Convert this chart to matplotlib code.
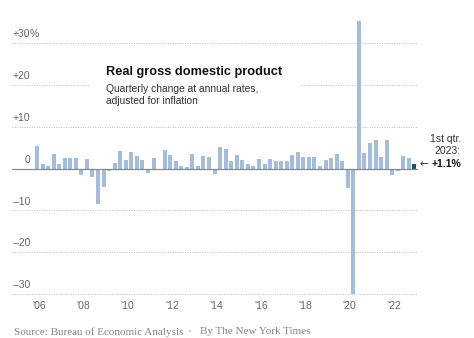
import numpy as np
import matplotlib
matplotlib.use('Agg')
import matplotlib.pyplot as plt
from matplotlib.transforms import blended_transform_factory
from matplotlib.patches import Rectangle

# quarterly real GDP change, annual rate, 2006 Q1 .. 2023 Q1
gdp = [5.5, 1.0, 0.6, 3.4,
       1.2, 2.5, 2.4, 2.4,
       -1.5, 2.2, -2.1, -8.4,
       -4.5, -0.7, 1.4, 4.2,
       2.0, 3.9, 3.1, 2.1,
       -1.0, 2.6, -0.1, 4.5,
       3.2, 1.7, 0.6, 0.4,
       3.4, 0.5, 3.1, 2.8,
       -1.4, 5.2, 4.6, 1.7,
       3.2, 2.1, 1.2, 0.6,
       2.3, 1.1, 2.3, 1.9,
       1.7, 1.9, 3.3, 4.0,
       2.7, 2.7, 2.7, 0.6,
       2.0, 2.5, 3.4, 1.7,
       -4.6, -29.9, 35.3, 3.8,
       6.2, 6.9, 2.7, 6.9,
       -1.5, -0.6, 3.1, 2.5,
       1.1]
year_labels = ["'06", "'08", "'10", "'12", "'14", "'16", "'18", "'20", "'22"]
y_ticks = [30, 20, 10, 0, -10, -20, -30]
y_tick_labels = ['+30', '+20', '+10', '0', '\u201310', '\u201320', '\u201330']

W, H = 474, 338
fig = plt.figure(figsize=(W / 100, H / 100), dpi=100)
fig.patch.set_facecolor('white')

# axes spans grid-line extent: x 12..418 px, y 9.7..298 px from top
ax = fig.add_axes([12 / W, 1 - 298.1 / H, 406 / W, (298.1 - 9.7) / H])
ax.set_xlim(-4.5, 68.65)
ax.set_ylim(-31, 38)
ax.axis('off')

x = np.arange(len(gdp))
colors = ['#a2bddd'] * (len(gdp) - 1) + ['#1d4f5a']
ax.bar(x, gdp, width=0.72, color=colors, zorder=3)

lab_font = 'Liberation Sans'
trans = blended_transform_factory(ax.transAxes, ax.transData)
for v, lab in zip(y_ticks, y_tick_labels):
    if v == 0:
        ax.axhline(0, color='#888888', lw=0.9, zorder=4)
    else:
        ax.axhline(v, color='#bbbbbb', lw=0.7, ls=(0, (1, 1.5)), zorder=1)
    ax.text(18 / 406, v + 0.9, lab, transform=trans, ha='right', va='bottom',
            fontsize=7.5, color='#666666', family=lab_font)
ax.text(18 / 406, 30 + 0.9, '%', transform=trans, ha='left', va='bottom',
        fontsize=7.5, color='#666666', family=lab_font)

for k, lab in enumerate(year_labels):
    ax.text(8 * k + 0.35, -33.0, lab, ha='center', va='center',
            fontsize=7.5, color='#666666', family=lab_font, clip_on=False)

# white box behind title
fig.patches.append(Rectangle((90 / W, 1 - 112 / H), 210 / W, 54 / H,
                             transform=fig.transFigure, facecolor='white',
                             edgecolor='none', zorder=5))
fig.text(106 / W, 1 - 72 / H, 'Real gross domestic product', ha='left', va='center',
         fontsize=9.2, fontweight='bold', color='#111111', family=lab_font, zorder=6)
fig.text(106 / W, 1 - 89 / H, 'Quarterly change at annual rates,', ha='left', va='center',
         fontsize=7.4, color='#333333', family=lab_font, zorder=6)
fig.text(106 / W, 1 - 101 / H, 'adjusted for inflation', ha='left', va='center',
         fontsize=7.4, color='#333333', family=lab_font, zorder=6)

# annotation for last quarter
fig.text(461 / W, 1 - 139 / H, '1st qtr.', ha='right', va='center',
         fontsize=7.5, color='#333333', family=lab_font)
fig.text(461 / W, 1 - 151 / H, '2023:', ha='right', va='center',
         fontsize=7.5, color='#333333', family=lab_font)
fig.text(461 / W, 1 - 164 / H, '+1.1%', ha='right', va='center',
         fontsize=7.5, fontweight='bold', color='#111111', family=lab_font)
fig.text(419 / W, 1 - 164 / H, '\u2190', ha='left', va='center',
         fontsize=7.5, color='#333333', family='DejaVu Sans')

fig.text(14 / W, 1 - 332 / H,
         'Source: Bureau of Economic Analysis', ha='left', va='center',
         fontsize=8, color='#888888', family='Liberation Serif')
fig.text(190 / W, 1 - 332 / H, '\u2022', ha='center', va='center',
         fontsize=5, color='#cccccc', family='DejaVu Sans')
fig.text(200 / W, 1 - 332 / H, 'By The New York Times', ha='left', va='center',
         fontsize=8, color='#888888', family='Liberation Serif')

fig.savefig('out.png', dpi=100)
